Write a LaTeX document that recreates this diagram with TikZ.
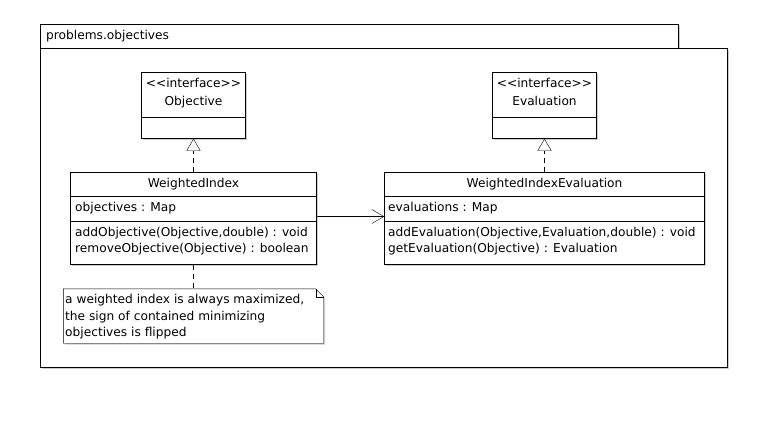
\documentclass[tikz,border=0pt]{standalone}
\usepackage{fontspec}
\newfontfamily\umlfont{DejaVu Sans}
\usepackage{tikz}
\usetikzlibrary{arrows.meta}
\usetikzlibrary{shadows}
\pgfdeclarelayer{pkglayer}
\pgfdeclarelayer{edgelayer}
\pgfdeclarelayer{nodelayer}
\pgfsetlayers{pkglayer,edgelayer,nodelayer,main}
\tikzset{
	box/.style={draw, fill=white, inner sep=0pt, drop shadow={shadow xshift=1.5pt, shadow yshift=-1.5pt, opacity=0.4, fill=black!50}},
	notebox/.style={fill=white, drop shadow={shadow xshift=1.5pt, shadow yshift=-1.5pt, opacity=0.4, fill=black!50}},
	title/.style={anchor=base, inner sep=0pt},
	member/.style={anchor=base west, inner sep=0pt},
	realize/.style={dash pattern=on 5pt off 4pt, -{Triangle[open, length=12pt, width=14pt]}},
	assoc/.style={-{Straight Barb[length=12pt, width=14pt]}},
	anchorline/.style={dash pattern=on 5pt off 4pt},
}

\begin{document}
\begin{tikzpicture}[x=1pt, y=-1pt, line width=1pt, every node/.style={font=\umlfont\fontsize{12.2pt}{16pt}\selectfont}]
	\useasboundingbox (0, 0) rectangle (768, 424);
	\begin{pgfonlayer}{pkglayer}
		\node [style=box, minimum width=638pt, minimum height=24pt] (5) at (359.5, 36.5) {};
		\node [style=box, minimum width=687pt, minimum height=319pt] (6) at (384, 208) {};
		\node [style=member] (7) at (46, 39) {problems.objectives};
	\end{pgfonlayer}
	\begin{pgfonlayer}{nodelayer}
		\node [style=box, minimum width=104pt, minimum height=66pt] (0) at (193.5, 105.5) {};
		\node [style=box, minimum width=104pt, minimum height=66pt] (1) at (544.5, 105.5) {};
		\node [style=box, minimum width=246pt, minimum height=92pt] (2) at (193.5, 218.5) {};
		\node [style=box, minimum width=320pt, minimum height=92pt] (3) at (544.5, 218.5) {};
		\node [minimum width=260pt, minimum height=54pt, inner sep=0pt] (4) at (193.5, 316) {};
		\draw [style=notebox] (4.north west) -- ([xshift=-8pt]4.north east) -- ([yshift=-8pt]4.north east) -- (4.south east) -- (4.south west) -- cycle;
		\draw ([xshift=-8pt]4.north east) -- ([xshift=-8pt, yshift=-8pt]4.north east) -- ([yshift=-8pt]4.north east);
		\draw ([yshift=-45pt]0.north west) -- ([yshift=-45pt]0.north east);
		\draw ([yshift=-45pt]1.north west) -- ([yshift=-45pt]1.north east);
		\draw ([yshift=-24pt]2.north west) -- ([yshift=-24pt]2.north east);
		\draw ([yshift=-49pt]2.north west) -- ([yshift=-49pt]2.north east);
		\draw ([yshift=-24pt]3.north west) -- ([yshift=-24pt]3.north east);
		\draw ([yshift=-49pt]3.north west) -- ([yshift=-49pt]3.north east);
		\node [style=title] (8) at (193.5, 87) {<<interface>>};
		\node [style=title] (9) at (193.5, 105) {Objective};
		\node [style=title] (10) at (544.5, 87) {<<interface>>};
		\node [style=title] (11) at (544.5, 105) {Evaluation};
		\node [style=title] (12) at (193.5, 187) {WeightedIndex};
		\node [style=member] (13) at (75, 211) {objectives : Map};
		\node [style=member] (14) at (75, 236) {addObjective(Objective,double) : void};
		\node [style=member] (15) at (75, 252) {removeObjective(Objective) : boolean};
		\node [style=title] (16) at (544.5, 187) {WeightedIndexEvaluation};
		\node [style=member] (17) at (388, 211) {evaluations : Map};
		\node [style=member] (18) at (388, 236) {addEvaluation(Objective,Evaluation,double) : void};
		\node [style=member] (19) at (388, 252) {getEvaluation(Objective) : Evaluation};
		\node [style=member] (20) at (65, 303) {a weighted index is always maximized,};
		\node [style=member] (21) at (65, 320) {the sign of contained minimizing};
		\node [style=member] (22) at (65, 336) {objectives is flipped};
	\end{pgfonlayer}
	\begin{pgfonlayer}{edgelayer}
		\draw [style=realize] (2.north) to (0.south);
		\draw [style=realize] (3.north) to (1.south);
		\draw [style=assoc] ([yshift=2pt]2.east) to ([yshift=2pt]3.west);
		\draw [style=anchorline] (2.south) to (4.north);
	\end{pgfonlayer}
\end{tikzpicture}
\end{document}
